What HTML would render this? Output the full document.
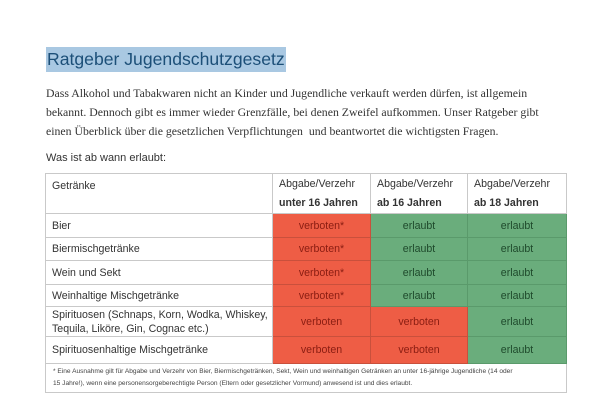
<!DOCTYPE html>
<html><head><meta charset="utf-8"><style>
body{margin:0;width:600px;height:415px;background:#fff;position:relative;overflow:hidden;font-family:"Liberation Sans","DejaVu Sans",sans-serif;color:#333}
.t{position:absolute;white-space:nowrap}
#title{left:46px;top:47px;height:25px;width:239px;background:#a9c8e2;color:#1c4f78;font-size:17.6px;line-height:25px;padding-left:1px}
.p{left:46px;font-family:"Liberation Serif",serif;font-size:11.8px;color:#333}
table{position:absolute;left:45px;top:173px;width:521px;border-collapse:collapse;font-size:10.6px;table-layout:fixed}
td{border:1px solid #c9c9c9;padding:0 6px;color:#333}
td.r{background:#ee5d45;color:#8a1d12;text-align:center;border-color:#c9503c}
td.g{background:#6aad7c;color:#1f4a2c;text-align:center;border-color:#5a9a6b}
.foot{font-size:6.6px;line-height:12px;padding:2px 7px;color:#444;white-space:nowrap}
</style></head><body>
<div id="title" class="t">Ratgeber Jugendschutzgesetz</div>
<div class="t p" style="top:86px">Dass Alkohol und Tabakwaren nicht an Kinder und Jugendliche verkauft werden dürfen, ist allgemein</div>
<div class="t p" style="top:105px">bekannt. Dennoch gibt es immer wieder Grenzfälle, bei denen Zweifel aufkommen. Unser Ratgeber gibt</div>
<div class="t p" style="top:124px">einen Überblick über die gesetzlichen Verpflichtungen&nbsp; und beantwortet die wichtigsten Fragen.</div>
<div class="t" style="left:46px;top:152px;font-size:11px">Was ist ab wann erlaubt:</div>
<table>
<colgroup><col style="width:227px"><col style="width:98px"><col style="width:97px"><col style="width:99px"></colgroup>
<tr style="height:40px">
<td style="vertical-align:top;padding-top:6px">Getränke</td>
<td style="line-height:19px">Abgabe/Verzehr<br><b>unter 16 Jahren</b></td>
<td style="line-height:19px">Abgabe/Verzehr<br><b>ab 16 Jahren</b></td>
<td style="line-height:19px">Abgabe/Verzehr<br><b>ab 18 Jahren</b></td></tr>
<tr style="height:24px"><td>Bier</td><td class="r">verboten*</td><td class="g">erlaubt</td><td class="g">erlaubt</td></tr>
<tr style="height:23px"><td>Biermischgetränke</td><td class="r">verboten*</td><td class="g">erlaubt</td><td class="g">erlaubt</td></tr>
<tr style="height:24px"><td>Wein und Sekt</td><td class="r">verboten*</td><td class="g">erlaubt</td><td class="g">erlaubt</td></tr>
<tr style="height:22px"><td>Weinhaltige Mischgetränke</td><td class="r">verboten*</td><td class="g">erlaubt</td><td class="g">erlaubt</td></tr>
<tr style="height:30px"><td style="line-height:14px;white-space:nowrap">Spirituosen (Schnaps, Korn, Wodka, Whiskey,<br>Tequila, Liköre, Gin, Cognac etc.)</td><td class="r">verboten</td><td class="r">verboten</td><td class="g">erlaubt</td></tr>
<tr style="height:27px"><td>Spirituosenhaltige Mischgetränke</td><td class="r">verboten</td><td class="r">verboten</td><td class="g">erlaubt</td></tr>
<tr style="height:26px"><td colspan="4" class="foot">* Eine Ausnahme gilt für Abgabe und Verzehr von Bier, Biermischgetränken, Sekt, Wein und weinhaltigen Getränken an unter 16-jährige Jugendliche (14 oder<br>15 Jahre!), wenn eine personensorgeberechtigte Person (Eltern oder gesetzlicher Vormund) anwesend ist und dies erlaubt.</td></tr>
</table>
</body></html>
